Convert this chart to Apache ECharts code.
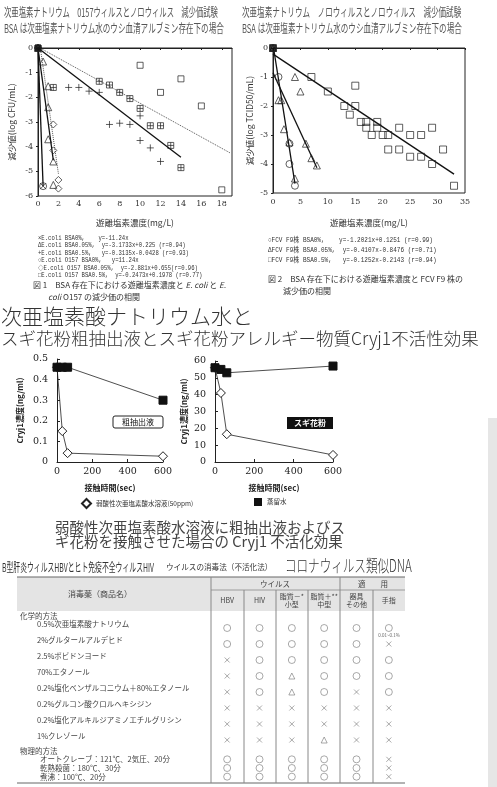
<!DOCTYPE html>
<html>
<head>
<meta charset="utf-8">
<script src="https://cdn.jsdelivr.net/npm/echarts@6/dist/echarts.min.js"></script>
<style>
html, body { margin: 0; padding: 0; background: #fff; }
#chart { width: 497px; height: 787px; }
</style>
</head>
<body>
<div id="chart"></div>
<script>
// --- fig 1 : E.coli / O157 ---
var ecoli0 = [[0, 0], [0.5, -5.6]];
var ecoli005 = [[0, 0], [0.5, -0.55], [1, -1.55], [1, -2.4], [1, -3.7], [1.5, -4.6], [1.5, -5.55]];
var ecoli05 = [[0, 0], [3, -1.6], [4, -1.6], [5, -1.75], [6, -1.8], [7, -3.1], [8, -3.05], [9, -3.1], [10, -2.75], [10, -3.75], [11, -4.05], [12, -4.6]];
var o157_0 = [[0, 0], [0.5, -5.6]];
var o157_005 = [[0, 0], [1.5, -3.1], [1.5, -4.15], [2, -5.35], [2, -5.7]];
var o157_05 = [[0, 0], [10, -0.7], [12, -1.8], [14, -1.25], [16, -2.35], [18, -5.75]];
var o157_05b = [[1.5, -1.6], [6, -1.35], [7, -1.5], [8, -1.8], [9, -2.05], [10, -2.45], [11, -3.15], [12, -3.15], [13, -3.95], [14, -4.85]];
var fit1 = {
    ecoli0: [[0, 0], [0.5, -5.6]],
    ecoli005: [[0, 0], [1.5, -4.55]],
    o157_005: [[0.23, 0], [2, -5.1]],
    ecoli05: [[0, 0], [14, -4.43]],
    o157_05: [[0.2, 0], [18.8, -4.25]]
};

// --- fig 2 : FCV F9 ---
var fcv0 = [[0, 0], [1, -1.0], [3, -3.3], [3, -4.0], [4, -4.75]];
var fcv005 = [[0, 0], [4, -1.0], [5, -1.5], [1, -1.8], [1.5, -1.8], [2, -2.8], [3, -3.25], [4, -4.5], [6, -3.3], [7, -3.8], [8, -4.05]];
var fcv05 = [[0, 0], [7, -1.0], [15, -1.3], [10, -1.5], [13, -2.0], [15, -2.0], [14, -2.3], [16, -2.55], [17, -2.55], [19, -2.55],
    [17, -2.75], [19, -2.75], [23, -2.75], [29, -2.75], [18, -3.0], [20, -3.0], [21, -3.0], [25, -3.0], [27, -3.0],
    [21, -3.5], [23, -3.5], [31, -3.5], [25, -3.75], [27, -3.75], [29, -4.0], [33, -4.75]];
var fit2 = {
    fcv0: [[0.1, 0], [4, -4.68]],
    fcv005: [[0, -0.85], [8, -4.13]],
    fcv05: [[0, -0.21], [33, -4.35]]
};

// --- Cryj1 ---
var contactTime = [0, 30, 60, 600];
var crudeHocl = [0.46, 0.15, 0.043, 0.028];
var crudeWater = [0.46, 0.46, 0.46, 0.30];
var pollenHocl = [56, 41, 16.5, 4.2];
var pollenWater = [56, 55, 53, 57];

// --- table ---
var tableCols = ['HBV', 'HIV', '脂質－*\n小型', '脂質＋**\n中型', '器具\nその他', '手指'];
var chemRows = ['0.5%次亜塩素酸ナトリウム', '2%グルタールアルデヒド', '2.5%ポビドンヨード', '70%エタノール',
    '0.2%塩化ベンザルコニウム＋80%エタノール', '0.2%グルコン酸クロルヘキシジン', '0.2%塩化アルキルジアミノエチルグリシン', '1%クレゾール'];
var chemMarks = ['○○○○○○', '○○○○○×', '×○○○○○', '×○△○○○', '×○△○×○', '××××××', '××××××', '×××△××'];
var physRows = ['オートクレーブ：121℃、2気圧、20分', '乾熱殺菌：180℃、30分', '煮沸：100℃、20分'];
var physMarks = ['○○○○○×', '○○○○○×', '○○○○○×'];

var JP = '"Noto Sans CJK JP", sans-serif';
var SERIF = '"DejaVu Serif", "Liberation Serif", "Noto Sans CJK JP", serif';
var MONO = '"Liberation Mono", "Noto Sans CJK JP", monospace';

var CROSS = 'path://M0,0L10,10M10,0L0,10';
var PLUS = 'path://M5,0L5,10M0,5L10,5';
var BOXPLUS = 'path://M0,0L10,0L10,10L0,10ZM5,0L5,10M0,5L10,5';

function txt(x, y, s, size, o) {
    o = o || {};
    return {
        type: 'text', x: x, y: y, scaleX: o.sx || 1, z: 10,
        style: {
            text: s, fontSize: size, fontFamily: o.ff || JP, fontWeight: o.fw || 'normal',
            fill: o.c || '#333', align: o.a || 'left', verticalAlign: 'middle',
            textAlign: o.a || 'left', textVerticalAlign: 'middle', rich: o.rich
        }
    };
}
function hline(x1, x2, y, c, w) {
    return { type: 'line', z: 5, shape: { x1: x1, y1: y, x2: x2, y2: y }, style: { stroke: c || '#555', lineWidth: w || 1 } };
}
function vline(x, y1, y2, c, w) {
    return { type: 'line', z: 5, shape: { x1: x, y1: y1, x2: x, y2: y2 }, style: { stroke: c || '#888', lineWidth: w || 1 } };
}

function pts(name, data, sym, size, gi, filled) {
    return {
        name: name, type: 'scatter', xAxisIndex: gi, yAxisIndex: gi, data: data, symbol: sym, symbolSize: size,
        itemStyle: { color: filled ? '#111' : 'rgba(0,0,0,0)', borderColor: '#222', borderWidth: 0.9 }, z: 4
    };
}
function fitLine(data, gi, dotted) {
    return {
        type: 'line', xAxisIndex: gi, yAxisIndex: gi, data: data, symbol: 'none', silent: true,
        lineStyle: { color: dotted ? '#555' : '#111', width: dotted ? 1 : 1.3, type: dotted ? 'dotted' : 'solid' }, z: 3
    };
}

var plotAxisLabel = { fontSize: 8, fontFamily: SERIF, color: '#333' };

function tableMarks(rows, marks, gi) {
    var d = [];
    rows.forEach(function (r, i) {
        Array.from(marks[i]).forEach(function (m, j) { d.push([j, i, m]); });
    });
    return {
        type: 'scatter', xAxisIndex: gi, yAxisIndex: gi, data: d,
        symbol: function (v) { return v[2] === '○' ? 'circle' : v[2] === '△' ? 'triangle' : CROSS; },
        symbolSize: function (v) { return v[2] === '○' ? 7 : v[2] === '△' ? 6 : 5; },
        itemStyle: { color: 'rgba(0,0,0,0)', borderColor: '#777', borderWidth: 0.8 }
    };
}

var chart = echarts.init(document.getElementById('chart'));

var graphics = [
    // fig1 / fig2 titles
    txt(4, 12, '次亜塩素ナトリウム　0157ウィルスとノロウィルス　減少価試験', 12, { sx: 0.61, c: '#555' }),
    txt(4, 28, 'BSA は次亜塩素ナトリウム水のウシ血清アルブミン存在下の場合', 12, { sx: 0.63, c: '#555' }),
    txt(242, 12, '次亜塩素ナトリウム　ノロウィルスとノロウィルス　減少価試験', 12, { sx: 0.63, c: '#555' }),
    txt(242, 28, 'BSA は次亜塩素ナトリウム水のウシ血清アルブミン存在下の場合', 12, { sx: 0.63, c: '#555' }),
    // fig1 legend
    txt(38, 238, '×E.coli BSA0%,    y=-11.24x', 6.5, { ff: MONO, sx: 0.86 }),
    txt(38, 245.5, 'ΔE.coli BSA0.05%,  y=-3.1733x+0.225 (r=0.94)', 6.5, { ff: MONO, sx: 0.86 }),
    txt(38, 253, '+E.coli BSA0.5%,   y=-0.3135x-0.0428 (r=0.93)', 6.5, { ff: MONO, sx: 0.86 }),
    txt(38, 260.5, '○E.coli O157 BSA0%,   y=11.24x', 6.5, { ff: MONO, sx: 0.86 }),
    txt(38, 268, '◇E.coli O157 BSA0.05%,  y=-2.881x+0.655(r=0.96)', 6.5, { ff: MONO, sx: 0.86 }),
    txt(38, 275.5, '□E.coli O157 BSA0.5%,  y=-0.2473x+0.1978 (r=0.77)', 6.5, { ff: MONO, sx: 0.86 }),
    txt(33, 285, '図 1　BSA 存在下における遊離塩素濃度と {i|E. coli} と {i|E.}', 8, { c: '#333', rich: { i: { fontStyle: 'italic', fontSize: 8, fontFamily: JP, fill: '#333' } } }),
    txt(48, 297, '{i|coli} O157 の減少価の相関', 8, { c: '#333', rich: { i: { fontStyle: 'italic', fontSize: 8, fontFamily: JP, fill: '#333' } } }),
    // fig2 legend
    txt(268, 240, '○FCV F9株 BSA0%,    y=-1.2021x+0.1251 (r=0.99)', 7, { ff: MONO, sx: 0.86 }),
    txt(268, 250, 'ΔFCV F9株 BSA0.05%,  y=-0.4107x-0.8476 (r=0.71)', 7, { ff: MONO, sx: 0.86 }),
    txt(268, 260, '□FCV F9株 BSA0.5%,   y=-0.1252x-0.2143 (r=0.94)', 7, { ff: MONO, sx: 0.86 }),
    txt(268, 279, '図 2　BSA 存在下における遊離塩素濃度と FCV F9 株の', 8, { c: '#333' }),
    txt(283, 291, '減少価の相関', 8, { c: '#333' }),
    // big title
    txt(1, 316, '次亜塩素酸ナトリウム水と', 21, { c: '#333', fw: 300 }),
    txt(1, 338, 'スギ花粉粗抽出液とスギ花粉アレルギー物質Cryj1不活性効果', 17.5, { c: '#333', fw: 300 }),
    // caption
    txt(55, 527, '弱酸性次亜塩素酸水溶液に粗抽出液およびス', 14.5, { c: '#444' }),
    txt(55, 541, 'ギ花粉を接触させた場合の Cryj1 不活化効果', 14.5, { c: '#444' }),
    // labels in Cryj1 charts
    { type: 'rect', z: 6, shape: { x: 113, y: 416, width: 50, height: 12, r: 2 }, style: { fill: '#fff', stroke: '#222', lineWidth: 1 } },
    txt(138, 422, '粗抽出液', 8, { a: 'center', c: '#111' }),
    { type: 'rect', z: 6, shape: { x: 287, y: 417, width: 46, height: 12 }, style: { fill: '#111' } },
    txt(310, 423, 'スギ花粉', 8, { a: 'center', c: '#fff', fw: 'bold' }),
    // gray strip at right
    { type: 'rect', z: -5, shape: { x: 488, y: 418, width: 9, height: 369 }, style: { fill: '#e6e6e6' } },
    // table title
    txt(2, 567, 'B型肝炎ウィルスHBVとヒト免疫不全ウィルスHIV', 12, { sx: 0.57, c: '#333' }),
    txt(166, 567, 'ウイルスの消毒法（不活化法）', 8, { c: '#333', sx: 0.95 }),
    txt(285, 566, 'コロナウィルス類似DNA', 17, { c: '#333', sx: 0.68, fw: 300 }),
    // table header
    { type: 'rect', z: -5, shape: { x: 17, y: 577, width: 388, height: 34 }, style: { fill: '#e4e4e4' } },
    hline(17, 405, 577, '#666', 1),
    hline(211, 405, 590, '#888', 0.8),
    hline(17, 405, 783, '#666', 1),
    txt(100, 594, '消毒薬（商品名）', 8, { a: 'center', c: '#444' }),
    txt(275, 584, 'ウイルス', 7.5, { a: 'center', c: '#444' }),
    txt(373, 584, '適　　用', 7.5, { a: 'center', c: '#444' }),
    vline(211, 577, 783), vline(340, 577, 783),
    vline(244, 590, 783), vline(276, 590, 783), vline(308, 590, 783), vline(373, 590, 783),
    txt(20, 616, '化学的方法', 7.5, { c: '#444' }),
    txt(20, 751, '物理的方法', 7.5, { c: '#444' }),
    txt(389, 635, '0.01~0.1%', 4.5, { a: 'center', c: '#666' })
];

chart.setOption({
    animation: false,
    backgroundColor: '#fff',
    graphic: { elements: graphics },
    legend: [
        { left: 76, top: 493, itemWidth: 9, itemHeight: 9, data: [{ name: '弱酸性次亜塩素酸水溶液(50ppm)', icon: 'diamond' }],
          textStyle: { fontSize: 6.5, fontFamily: JP, color: '#333' }, selectedMode: false },
        { left: 249, top: 493, itemWidth: 8, itemHeight: 8, data: [{ name: '蒸留水', icon: 'rect' }],
          textStyle: { fontSize: 6.5, fontFamily: JP, color: '#333' }, selectedMode: false }
    ],
    grid: [
        { left: 38, top: 48, width: 194, height: 148, show: true, borderColor: '#222', borderWidth: 1, backgroundColor: 'transparent' },
        { left: 273, top: 48, width: 192, height: 145, show: true, borderColor: '#222', borderWidth: 1, backgroundColor: 'transparent' },
        { left: 57, top: 359, width: 106, height: 103 },
        { left: 215, top: 361, width: 118, height: 101 },
        { left: 211, top: 620, width: 194, height: 128 },
        { left: 211, top: 755, width: 194, height: 26 }
    ],
    xAxis: [
        { gridIndex: 0, type: 'value', min: 0, max: 19, interval: 2, name: '遊離塩素濃度(mg/L)', nameLocation: 'middle', nameGap: 23,
          nameTextStyle: { fontSize: 8.5, fontFamily: JP, color: '#333' },
          axisLine: { lineStyle: { color: '#222' } }, axisTick: { length: 2, lineStyle: { color: '#222' } },
          axisLabel: Object.assign({ margin: 4, showMaxLabel: false }, plotAxisLabel), splitLine: { show: false } },
        { gridIndex: 1, type: 'value', min: 0, max: 35, interval: 5, name: '遊離塩素濃度(mg/L)', nameLocation: 'middle', nameGap: 26,
          nameTextStyle: { fontSize: 8.5, fontFamily: JP, color: '#333' },
          axisLine: { lineStyle: { color: '#222' } }, axisTick: { length: 2, lineStyle: { color: '#222' } },
          axisLabel: Object.assign({ margin: 5 }, plotAxisLabel), splitLine: { show: false } },
        { gridIndex: 2, type: 'value', min: 0, max: 600, interval: 200, name: '接触時間(sec)', nameLocation: 'middle', nameGap: 22,
          nameTextStyle: { fontSize: 8, fontFamily: JP, color: '#222', fontWeight: 'bold' },
          axisLine: { lineStyle: { color: '#222' } }, axisTick: { length: 3, inside: true, lineStyle: { color: '#222' } },
          axisLabel: { fontSize: 9.5, fontFamily: SERIF, color: '#222', margin: 5 }, splitLine: { show: false } },
        { gridIndex: 3, type: 'value', min: 0, max: 600, interval: 200, name: '接触時間(sec)', nameLocation: 'middle', nameGap: 22,
          nameTextStyle: { fontSize: 8, fontFamily: JP, color: '#222', fontWeight: 'bold' },
          axisLine: { lineStyle: { color: '#222' } }, axisTick: { length: 3, inside: true, lineStyle: { color: '#222' } },
          axisLabel: { fontSize: 9.5, fontFamily: SERIF, color: '#222', margin: 5 }, splitLine: { show: false } },
        { gridIndex: 4, type: 'category', data: tableCols, position: 'top', z: 20,
          axisLine: { show: false }, axisTick: { show: false }, splitLine: { show: false },
          axisLabel: { interval: 0, fontSize: 7, fontFamily: JP, color: '#444', margin: 20, verticalAlign: 'middle', lineHeight: 8 } },
        { gridIndex: 5, type: 'category', data: tableCols, show: false }
    ],
    yAxis: [
        { gridIndex: 0, type: 'value', min: -6, max: 0, interval: 1, name: '減少値(log CFU/mL)', nameLocation: 'middle', nameGap: 22, nameRotate: 90,
          nameTextStyle: { fontSize: 8.5, fontFamily: JP, color: '#333' },
          axisLine: { lineStyle: { color: '#222' } }, axisTick: { length: 2, lineStyle: { color: '#222' } },
          axisLabel: Object.assign({ margin: 5 }, plotAxisLabel), splitLine: { show: false } },
        { gridIndex: 1, type: 'value', min: -5, max: 0, interval: 1, name: '減少値(log TCID50/mL)', nameLocation: 'middle', nameGap: 19, nameRotate: 90,
          nameTextStyle: { fontSize: 8.5, fontFamily: JP, color: '#333' },
          axisLine: { lineStyle: { color: '#222' } }, axisTick: { length: 2, lineStyle: { color: '#222' } },
          axisLabel: Object.assign({ margin: 5 }, plotAxisLabel), splitLine: { show: false } },
        { gridIndex: 2, type: 'value', min: 0, max: 0.5, interval: 0.1, offset: 3, name: 'Cryj1濃度(ng/ml)', nameLocation: 'middle', nameGap: 30, nameRotate: 90,
          nameTextStyle: { fontSize: 8, fontFamily: JP, color: '#222', fontWeight: 'bold' },
          axisLine: { lineStyle: { color: '#222' } }, axisTick: { length: 3, inside: true, lineStyle: { color: '#222' } },
          axisLabel: { fontSize: 9.5, fontFamily: SERIF, color: '#222', margin: 6 }, splitLine: { show: false } },
        { gridIndex: 3, type: 'value', min: 0, max: 60, interval: 10, offset: 3, name: 'Cryj1濃度(ng/ml)', nameLocation: 'middle', nameGap: 24, nameRotate: 90,
          nameTextStyle: { fontSize: 8, fontFamily: JP, color: '#222', fontWeight: 'bold' },
          axisLine: { lineStyle: { color: '#222' } }, axisTick: { length: 3, inside: true, lineStyle: { color: '#222' } },
          axisLabel: { fontSize: 9.5, fontFamily: SERIF, color: '#222', margin: 6 }, splitLine: { show: false } },
        { gridIndex: 4, type: 'category', data: chemRows, inverse: true,
          axisLine: { show: false }, axisTick: { show: false }, splitLine: { show: false },
          axisLabel: { interval: 0, fontSize: 7.5, fontFamily: JP, color: '#444', align: 'left', margin: 174, verticalAlign: 'bottom' } },
        { gridIndex: 5, type: 'category', data: physRows, inverse: true,
          axisLine: { show: false }, axisTick: { show: false }, splitLine: { show: false },
          axisLabel: { interval: 0, fontSize: 7.5, fontFamily: JP, color: '#444', align: 'left', margin: 171 } }
    ],
    series: [
        // fig1
        pts('E.coli BSA0%', ecoli0, CROSS, 6, 0),
        pts('E.coli BSA0.05%', ecoli005, 'triangle', 7, 0),
        pts('E.coli BSA0.5%', ecoli05, PLUS, 7, 0),
        pts('E.coli O157 BSA0%', o157_0, 'circle', 7, 0),
        pts('E.coli O157 BSA0.05%', o157_005, 'diamond', 7, 0),
        pts('E.coli O157 BSA0.5%', o157_05, 'rect', 6, 0),
        pts('E.coli O157 BSA0.5% ', o157_05b, BOXPLUS, 6, 0),
        pts('origin', [[0, 0]], 'rect', 6, 0, true),
        fitLine(fit1.ecoli0, 0), fitLine(fit1.ecoli005, 0), fitLine(fit1.o157_005, 0, true),
        fitLine(fit1.ecoli05, 0), fitLine(fit1.o157_05, 0, true),
        // fig2
        pts('FCV BSA0%', fcv0, 'circle', 7, 1),
        pts('FCV BSA0.05%', fcv005, 'triangle', 7, 1),
        pts('FCV BSA0.5%', fcv05, 'rect', 7, 1),
        pts('origin2', [[0, 0]], 'rect', 6, 1, true),
        fitLine(fit2.fcv0, 1), fitLine(fit2.fcv005, 1), fitLine(fit2.fcv05, 1),
        // Cryj1 crude extract
        { name: '弱酸性次亜塩素酸水溶液(50ppm)', type: 'line', xAxisIndex: 2, yAxisIndex: 2,
          data: contactTime.map(function (t, i) { return [t, crudeHocl[i]]; }),
          symbol: 'diamond', symbolSize: 9, lineStyle: { color: '#222', width: 0.8 },
          itemStyle: { color: '#fff', borderColor: '#222', borderWidth: 1 }, z: 2 },
        { name: '蒸留水', type: 'line', xAxisIndex: 2, yAxisIndex: 2,
          data: contactTime.map(function (t, i) { return [t, crudeWater[i]]; }),
          symbol: 'rect', symbolSize: 8, lineStyle: { color: '#222', width: 0.8 },
          itemStyle: { color: '#111', borderColor: '#111' }, z: 3 },
        // Cryj1 pollen
        { name: '弱酸性次亜塩素酸水溶液(50ppm)', type: 'line', xAxisIndex: 3, yAxisIndex: 3,
          data: contactTime.map(function (t, i) { return [t, pollenHocl[i]]; }),
          symbol: 'diamond', symbolSize: 9, lineStyle: { color: '#222', width: 0.8 },
          itemStyle: { color: '#fff', borderColor: '#222', borderWidth: 1 }, z: 2 },
        { name: '蒸留水', type: 'line', xAxisIndex: 3, yAxisIndex: 3,
          data: contactTime.map(function (t, i) { return [t, pollenWater[i]]; }),
          symbol: 'rect', symbolSize: 8, lineStyle: { color: '#222', width: 0.8 },
          itemStyle: { color: '#111', borderColor: '#111' }, z: 3 },
        // table
        tableMarks(chemRows, chemMarks, 4),
        tableMarks(physRows, physMarks, 5)
    ]
});
</script>
</body>
</html>
